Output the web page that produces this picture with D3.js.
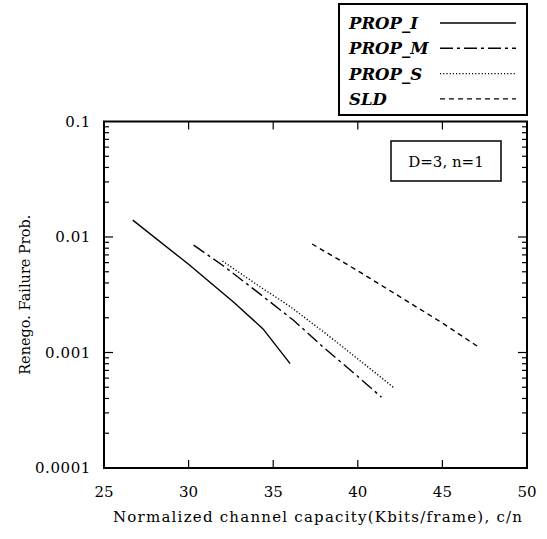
<!DOCTYPE html>
<html>
<head>
<meta charset="utf-8">
<script src="https://cdn.jsdelivr.net/npm/d3@7"></script>
<style>
  body { margin: 0; background: #fff; }
  text { font-family: "DejaVu Serif", "Liberation Serif", serif; fill: #000; }
</style>
</head>
<body>
<div id="chart"></div>
<script>
// Series values: [capacity c/n, failure prob]
const propI = [[26.7, 0.014], [30, 0.0058], [32.7, 0.0027], [34.4, 0.0016], [36, 0.0008]];
const propM = [[30.3, 0.0085], [32, 0.0057], [34, 0.0034], [36.2, 0.0019], [38, 0.0011], [40, 0.00062], [41.4, 0.00041]];
const propS = [[32, 0.0062], [34, 0.0039], [36, 0.0025], [38, 0.0015], [40, 0.00088], [42.1, 0.0005]];
const sld = [[37.3, 0.0087], [40, 0.0051], [45, 0.0018], [47.2, 0.0011]];

const seriesNames = ["PROP_I", "PROP_M", "PROP_S", "SLD"];
const xTicks = [25, 30, 35, 40, 45, 50];
const yTicks = [0.0001, 0.001, 0.01, 0.1];
const yTickLabels = ["0.0001", "0.001", "0.01", "0.1"];

const width = 547;
const height = 539;
const margin = { top: 121.5, right: 20, bottom: 71, left: 104 };

const svg = d3.select("#chart")
  .append("svg")
  .attr("width", width)
  .attr("height", height);

const x = d3.scaleLinear().domain([25, 50]).range([margin.left, width - margin.right]);
const y = d3.scaleLog().domain([0.0001, 0.1]).range([height - margin.bottom, margin.top]);

const series = [
  { name: seriesNames[0], data: propI, dash: null },
  { name: seriesNames[1], data: propM, dash: "13,4,3,4" },
  { name: seriesNames[2], data: propS, dash: "1.2,2" },
  { name: seriesNames[3], data: sld, dash: "5,4" },
];

// Minor ticks for the log axis.
const minorTicks = [];
for (let e = -4; e < -1; e++) {
  for (let m = 2; m <= 9; m++) minorTicks.push(m * Math.pow(10, e));
}

// Frame.
svg.append("rect")
  .attr("x", x(25))
  .attr("y", y(0.1))
  .attr("width", x(50) - x(25))
  .attr("height", y(0.0001) - y(0.1))
  .attr("fill", "none")
  .attr("stroke", "#000")
  .attr("stroke-width", 2);

// Left and right ticks, pointing inward.
[[x(25), 1], [x(50), -1]].forEach(([px, dir]) => {
  svg.append("g").selectAll("line").data(yTicks.slice(1, -1)).join("line")
    .attr("x1", px).attr("x2", px + dir * 9)
    .attr("y1", (d) => y(d)).attr("y2", (d) => y(d))
    .attr("stroke", "#000").attr("stroke-width", 1.2);
  svg.append("g").selectAll("line").data(minorTicks).join("line")
    .attr("x1", px).attr("x2", px + dir * 5)
    .attr("y1", (d) => y(d)).attr("y2", (d) => y(d))
    .attr("stroke", "#000").attr("stroke-width", 1.2);
});

// Bottom and top ticks, pointing inward.
[[y(0.0001), -1], [y(0.1), 1]].forEach(([py, dir]) => {
  svg.append("g").selectAll("line").data(xTicks.slice(1, -1)).join("line")
    .attr("x1", (d) => x(d)).attr("x2", (d) => x(d))
    .attr("y1", py).attr("y2", py + dir * 8)
    .attr("stroke", "#000").attr("stroke-width", 1.2);
});

// Tick labels.
svg.append("g").selectAll("text").data(xTicks).join("text")
  .attr("x", (d) => x(d))
  .attr("y", y(0.0001) + 29)
  .attr("text-anchor", "middle")
  .attr("font-size", 15)
  .text((d) => d);

svg.append("g").selectAll("text").data(yTicks).join("text")
  .attr("x", x(25) - 13)
  .attr("y", (d) => y(d) + 5)
  .attr("text-anchor", "end")
  .attr("font-size", 15)
  .attr("letter-spacing", 0.6)
  .text((d, i) => yTickLabels[i]);

// Axis titles.
svg.append("text")
  .attr("x", 113)
  .attr("y", 522)
  .attr("font-size", 15)
  .attr("textLength", 409)
  .attr("lengthAdjust", "spacing")
  .text("Normalized channel capacity(Kbits/frame), c/n");

svg.append("text")
  .attr("transform", `translate(30,${(y(0.1) + y(0.0001)) / 2}) rotate(-90)`)
  .attr("text-anchor", "middle")
  .attr("font-size", 14.5)
  .text("Renego. Failure Prob.");

// Curves.
const line = d3.line().x((d) => x(d[0])).y((d) => y(d[1]));
svg.append("g").selectAll("path").data(series).join("path")
  .attr("d", (d) => line(d.data))
  .attr("fill", "none")
  .attr("stroke", "#000")
  .attr("stroke-width", 1.4)
  .attr("stroke-dasharray", (d) => d.dash);

// Parameter box.
svg.append("rect")
  .attr("x", 391).attr("y", 141)
  .attr("width", 110).attr("height", 40)
  .attr("fill", "#fff").attr("stroke", "#000").attr("stroke-width", 1.5);
svg.append("text")
  .attr("x", 446).attr("y", 167)
  .attr("text-anchor", "middle")
  .attr("font-size", 15)
  .text("D=3, n=1");

// Legend.
const legend = svg.append("g");
legend.append("rect")
  .attr("x", 339).attr("y", 4)
  .attr("width", 188).attr("height", 111)
  .attr("fill", "#fff").attr("stroke", "#000").attr("stroke-width", 2);
const rows = legend.selectAll("g").data(series).join("g")
  .attr("transform", (d, i) => `translate(0,${23 + i * 25.3})`);
rows.append("text")
  .attr("x", 349).attr("y", 6)
  .attr("font-family", "Liberation Serif")
  .attr("font-size", 16.5)
  .attr("font-style", "italic")
  .attr("font-weight", "bold")
  .text((d) => d.name);
rows.append("line")
  .attr("x1", 440).attr("x2", 516)
  .attr("stroke", "#000").attr("stroke-width", 1.4)
  .attr("stroke-dasharray", (d) => d.dash);
</script>
</body>
</html>
